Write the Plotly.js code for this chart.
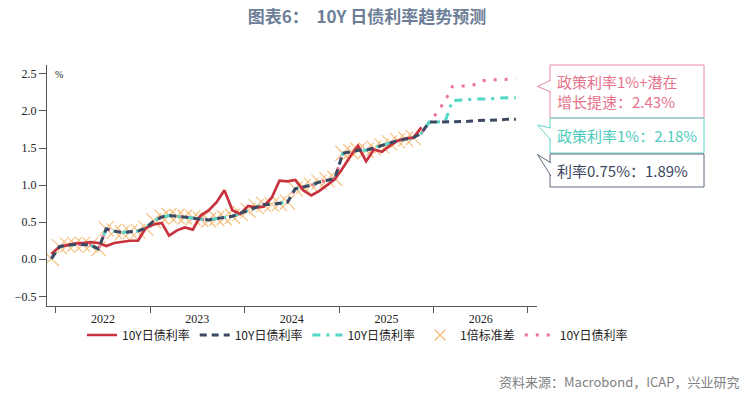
<!DOCTYPE html>
<html><head><meta charset="utf-8">
<script src="https://cdn.plot.ly/plotly-3.0.1.min.js"></script>
<style>html,body{margin:0;padding:0;background:#fff}#chart{width:754px;height:395px}</style>
</head><body><div id="chart"></div>
<script>
// ---- data ----
const histMonths = ['2021-12',
 '2022-01','2022-02','2022-03','2022-04','2022-05','2022-06','2022-07','2022-08','2022-09','2022-10','2022-11','2022-12',
 '2023-01','2023-02','2023-03','2023-04','2023-05','2023-06','2023-07','2023-08','2023-09','2023-10','2023-11','2023-12',
 '2024-01','2024-02','2024-03','2024-04','2024-05','2024-06','2024-07','2024-08','2024-09','2024-10','2024-11','2024-12',
 '2025-01','2025-02','2025-03','2025-04','2025-05','2025-06','2025-07','2025-08','2025-09','2025-10','2025-11','2025-12'];
const actualYield = [0.07,
 0.17,0.19,0.21,0.22,0.23,0.22,0.18,0.22,0.24,0.25,0.25,0.42,
 0.47,0.49,0.32,0.39,0.43,0.40,0.59,0.66,0.77,0.93,0.66,0.61,
 0.72,0.70,0.71,0.83,1.06,1.05,1.07,0.93,0.86,0.92,1.00,1.08,
 1.23,1.40,1.53,1.32,1.48,1.45,1.53,1.60,1.63,1.64,1.78];
const modelYield = [0.01,
 0.17,0.19,0.20,0.20,0.19,0.14,0.41,0.38,0.36,0.37,0.38,0.42,
 0.52,0.57,0.59,0.58,0.57,0.56,0.54,0.53,0.55,0.56,0.58,0.62,
 0.66,0.71,0.74,0.74,0.75,0.77,0.95,0.98,1.00,1.04,1.07,1.09,
 1.43,1.45,1.47,1.47,1.50,1.53,1.57,1.60,1.62,1.64,1.70,1.85];
const bandCount = 47; // std-band markers run Dec 2021 - Oct 2025
const fcstMonths = ['2026-01','2026-02','2026-03','2026-04','2026-05','2026-06','2026-07','2026-08','2026-09','2026-10','2026-11'];
const baseFcst   = [1.85,1.85,1.86,1.86,1.86,1.87,1.87,1.88,1.88,1.89,1.89];
const policyFcst = [1.85,1.86,2.14,2.15,2.16,2.16,2.16,2.17,2.17,2.18,2.18];
const growthFcst = [1.98,2.14,2.33,2.33,2.34,2.36,2.41,2.42,2.42,2.43,2.43];
const seriesName = '10Y日债利率';
const bandName = '1倍标准差';
const boxTexts = ['政策利率1%+潜在<br>增长提速：2.43%', '政策利率1%：2.18%', '利率0.75%：1.89%'];
const titleText = '图表6：  10Y 日债利率趋势预测';
const sourceText = '资料来源：Macrobond，ICAP，兴业研究';

// ---- helpers ----
const d = m => m + '-15';
const histX = histMonths.map(d);
const fcstX = fcstMonths.map(d);
const allX = histX.concat(fcstX);

const L = 47, R = 537, T = 65, B = 306;
const W = R - L, H = B - T;
const px = p => (p - L) / W;
const py = p => (B - p) / H;

const RED = '#c8323f', NAVY = '#3b4a62', CYAN = '#52d6c6', PINK = '#ec7393', ORANGE = 'rgba(244,178,100,0.8)';
const CJK = '"Noto Sans CJK SC", "Noto Sans", sans-serif';
const SERIF = '"Liberation Serif", "DejaVu Serif", serif';

const traces = [
 {x: histX.slice(0, bandCount), y: modelYield.slice(0, bandCount), type:'scatter', mode:'markers', name: bandName,
  marker:{symbol:'x-thin-open', size:15, color: ORANGE, line:{color: ORANGE, width:1.2}}, showlegend:false},
 // legend entry for the band (smaller symbol, as in the reference legend)
 {x:[null], y:[null], type:'scatter', mode:'markers', name: bandName,
  marker:{symbol:'x-thin-open', size:11, color: ORANGE, line:{color: ORANGE, width:1.5}}, legendrank: 4},
 {x: allX, y: modelYield.concat(growthFcst), type:'scatter', mode:'lines', name: seriesName,
  line:{color: PINK, width:3, dash:'3px,8px'}, legendrank: 5},
 {x: allX, y: modelYield.concat(policyFcst), type:'scatter', mode:'lines', name: seriesName,
  line:{color: CYAN, width:3, dash:'8px,6px,3px,6px'}, legendrank: 3},
 {x: histX.slice(0, actualYield.length), y: actualYield, type:'scatter', mode:'lines', name: seriesName,
  line:{color: RED, width:2.7}, legendrank: 1},
 {x: allX, y: modelYield.concat(baseFcst), type:'scatter', mode:'lines', name: seriesName,
  line:{color: NAVY, width:3, dash:'7px,5px'}, legendrank: 2}
];

const boxes = [
 {top:65, bottom:118, color:'#e88aa0', text:'#e8728c', tip:[537.5,86.5], base:[80,92]},
 {top:118, bottom:153, color:'#63d6cb', text:'#4ccbbd', tip:[537.5,125], base:[128,140]},
 {top:154, bottom:187, color:'#5f6a80', text:'#3b4760', tip:[537.5,154.5], base:[163,176]}
];
const shapes = [];
const annotations = [];
boxes.forEach((b, i) => {
  shapes.push({type:'rect', xref:'paper', yref:'paper', x0:px(550), x1:px(704), y0:py(b.bottom), y1:py(b.top),
    line:{color:b.color, width:1}, fillcolor:'rgba(255,255,255,0)'});
  shapes.push({type:'path', xref:'paper', yref:'paper',
    path:`M${px(551)},${py(b.base[0])} L${px(b.tip[0])},${py(b.tip[1])} L${px(551)},${py(b.base[1])}`,
    line:{color:b.color, width:1}, fillcolor:'#ffffff'});
  annotations.push({xref:'paper', yref:'paper', x:px(555), y:py((b.top + b.bottom)/2), xanchor:'left', yanchor:'middle',
    text: boxTexts[i], showarrow:false, align:'left', font:{family:CJK, size:15, color:b.text}});
});
annotations.push({xref:'paper', yref:'paper', x:px(53), y:py(74), xanchor:'left', yanchor:'middle', text:'%',
  showarrow:false, font:{family:SERIF, size:10, color:'#222'}});
annotations.push({xref:'paper', yref:'paper', x:px(741), y:py(381), xanchor:'right', yanchor:'middle', text:sourceText,
  showarrow:false, font:{family:CJK, size:13, color:'#7f7f7f'}});

const layout = {
  width:754, height:395,
  margin:{l:L, r:754-R, t:T, b:395-B, pad:0},
  paper_bgcolor:'#fff', plot_bgcolor:'#fff',
  title:{text:titleText, x:367/754, xanchor:'center', y:1-17/395, yanchor:'middle',
    font:{family:CJK, size:17, weight:'bold', color:'#6d7e98'}},
  xaxis:{type:'date', range:['2021-11-28','2027-02-05'], showgrid:false, zeroline:false,
    showline:true, linecolor:'#555', linewidth:1, ticks:'outside', ticklen:6, tickcolor:'#555',
    dtick:'M12', tick0:'2022-01-01', tickformat:'%Y', ticklabelmode:'period', ticklabelstandoff:-4,
    tickfont:{family:SERIF, size:12, color:'#222'}},
  yaxis:{range:[-0.63,2.62], showgrid:false, zeroline:false, showline:true, linecolor:'#555', linewidth:1,
    ticks:'outside', ticklen:7, tickcolor:'#555', dtick:0.5, tick0:0, tickformat:'.1f',
    tickfont:{family:SERIF, size:12, color:'#222'}},
  showlegend:true,
  legend:{orientation:'h', x:px(633), xanchor:'right', y:py(335), yanchor:'middle',
    font:{family:CJK, size:12, color:'#222'}, traceorder:'normal', itemwidth:30, tracegroupgap:0,
    bgcolor:'rgba(0,0,0,0)', borderwidth:0},
  shapes:shapes, annotations:annotations
};
Plotly.newPlot('chart', traces, layout, {displayModeBar:false, staticPlot:true});
</script></body></html>
